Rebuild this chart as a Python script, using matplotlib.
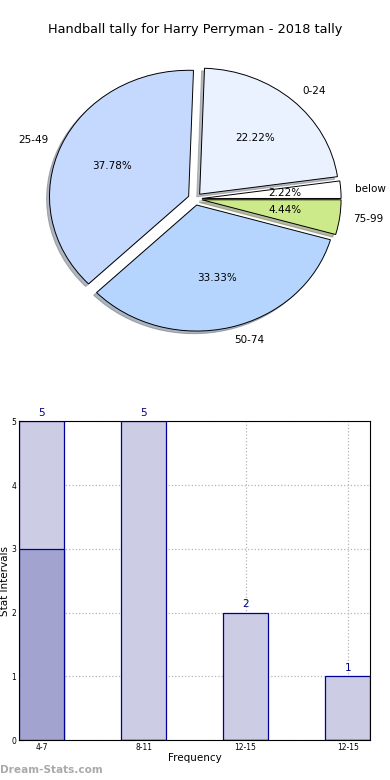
import numpy as np
import matplotlib as mpl
mpl.use('Agg')
import matplotlib.pyplot as plt

# pie data (clockwise from top)
pie_labels = ["0-24", "below", "75-99", "50-74", "25-49"]
pie_values = [10, 1, 2, 15, 17]
pie_colors = ["#eaf1ff", "#ffffff", "#cdea8a", "#b5d5ff", "#c5d9ff"]
pie_explode = [0.05, 0.05, 0.05, 0.05, 0.05]

# bar data
bar_labels = ["4-7", "8-11", "12-15", "12-15"]
bar_values = [5, 5, 2, 1]
overlay_values = [3, 0, 0, 0]

fig = plt.figure(figsize=(3.9, 7.8), dpi=100)
fig.text(0.5, 0.962, "Handball tally for Harry Perryman - 2018 tally",
         ha="center", va="center", fontsize=9.3)

#--------------------------------------------------------------------------------
# pie
ax1 = fig.add_axes([0.054, 0.543, 0.892, 0.404])
wedges, texts, autotexts = ax1.pie(pie_values, labels=pie_labels, colors=pie_colors,
                                   explode=pie_explode, autopct="%.2f%%",
                                   startangle=88, counterclock=False,
                                   shadow=dict(ox=-0.015, oy=-0.015, shade=0.5),
                                   wedgeprops=dict(edgecolor="black", linewidth=0.7),
                                   textprops=dict(fontsize=7.5))
ax1.set_aspect("auto")
ax1.set_xlim(-1.25, 1.25)
ax1.set_ylim(-1.25, 1.25)

#--------------------------------------------------------------------------------
# bars
ax2 = fig.add_axes([0.049, 0.051, 0.900, 0.409])
x = np.arange(len(bar_values))
w = 0.44
ax2.bar(x, bar_values, width=w, color="#cccce5", edgecolor="#000099", linewidth=0.9, zorder=2)
ax2.bar(x, overlay_values, width=w, color="#a2a4cf", edgecolor="#000099", linewidth=0.9, zorder=2)
for xi, v in zip(x, bar_values):
    ax2.text(xi, v + 0.05, str(v), ha="center", va="bottom", color="#000080", fontsize=7.5)

ax2.set_xlim(-w / 2, len(bar_values) - 1 + w / 2)
ax2.set_ylim(0, 5)
ax2.set_xticks(x)
ax2.set_xticklabels(bar_labels, fontsize=5.5)
ax2.set_yticks(range(6))
ax2.tick_params(axis="y", labelsize=5.5, length=3, direction="in", pad=2)
ax2.tick_params(axis="x", length=3, direction="in", pad=2)
ax2.grid(True, linestyle=":", color="#b5b5b5", linewidth=0.9, zorder=0)
ax2.set_axisbelow(True)
ax2.set_xlabel("Frequency", fontsize=7.5, labelpad=1)
ax2.set_ylabel("Stat Intervals", fontsize=7.5, labelpad=1)

fig.text(0.0, 0.013, "Dream-Stats.com", color="#aaaaaa", fontsize=7.6, fontweight="bold",
         ha="left", va="center")

plt.savefig("out.png", dpi=100)
